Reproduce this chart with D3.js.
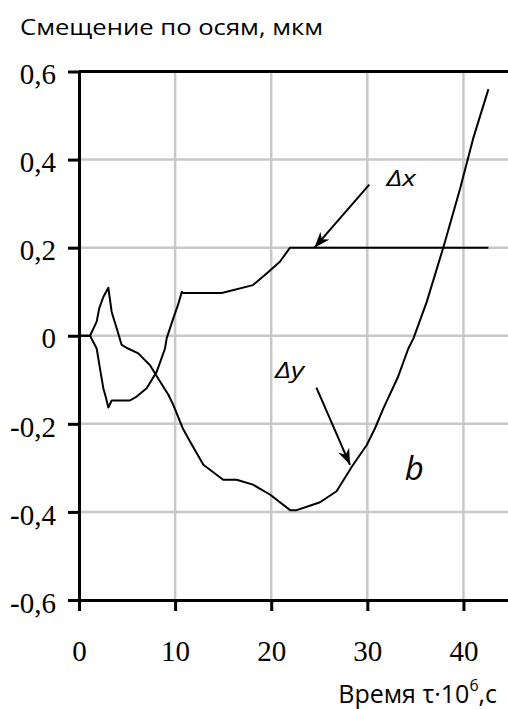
<!DOCTYPE html>
<html>
<head>
<meta charset="utf-8">
<script src="https://cdn.jsdelivr.net/npm/d3@7"></script>
<style>
  body { margin: 0; background: #fff; }
  svg { display: block; }
</style>
</head>
<body>
<svg width="508" height="709"></svg>
<script>
// time, 10^6 s
var xTicks = [0, 10, 20, 30, 40];
var yTicks = [-0.6, -0.4, -0.2, 0, 0.2, 0.4, 0.6];

// Δx curve
var dxT = [0, 1.15, 1.84, 2.18, 2.53, 2.8, 3.05, 3.4, 5.3, 6.0, 7.04, 8.08, 8.95, 9.12, 9.8, 10.3, 10.7, 10.8, 14.85, 18.1, 19.7, 20.9, 21.96, 42.6];
var dxV = [0, 0, -0.029, -0.074, -0.119, -0.14, -0.163, -0.147, -0.147, -0.138, -0.119, -0.082, -0.029, -0.006, 0.039, 0.07, 0.1, 0.097, 0.097, 0.115, 0.145, 0.168, 0.2, 0.2];

// Δy curve
var dyT = [0, 1.15, 1.84, 2.1, 2.53, 3.05, 3.4, 3.92, 4.44, 5.1, 6.17, 7.39, 8.43, 9.3, 9.81, 10.79, 11.55, 12.94, 15.0, 16.4, 18.1, 19.9, 21.96, 22.65, 25.08, 26.8, 28.4, 29.94, 30.8, 31.67, 33.2, 34.27, 34.8, 36.18, 37.9, 39.65, 41.0, 42.6];
var dyV = [0, 0, 0.032, 0.062, 0.088, 0.109, 0.054, 0.017, -0.021, -0.029, -0.04, -0.067, -0.104, -0.134, -0.157, -0.21, -0.24, -0.293, -0.327, -0.327, -0.338, -0.361, -0.396, -0.396, -0.378, -0.353, -0.297, -0.248, -0.21, -0.165, -0.093, -0.029, -0.006, 0.077, 0.2, 0.334, 0.447, 0.56];

// arrows: [fromT, fromV, toT, toV]
var arrows = [[30.2, 0.343, 24.5, 0.2], [24.7, -0.118, 28.2, -0.293]];
var notes = [
  { t: 32.0, v: 0.34, text: "Δx", size: 21, len: 29 },
  { t: 20.4, v: -0.097, text: "Δy", size: 21, len: 29 },
  { t: 33.9, v: -0.327, text: "b", size: 33, len: 0 }
];

var serif = '"Liberation Serif", "DejaVu Serif", serif';
var sans = '"Open Sans", "Noto Sans", sans-serif';

var svg = d3.select("svg");

var x = d3.scaleLinear().domain([0, 45]).range([79, 511.5]);
var y = d3.scaleLinear().domain([-0.6, 0.6]).range([600, 71.5]);

var fmt = function(d) {
  return d === 0 ? "0" : d3.format(".1f")(d).replace("\u2212", "-").replace(".", ",");
};

// grid
svg.append("g").selectAll("line")
    .data(xTicks.filter(function(d) { return d > 0; }))
    .enter().append("line")
    .attr("x1", function(d) { return x(d); }).attr("x2", function(d) { return x(d); })
    .attr("y1", y(0.6)).attr("y2", y(-0.6))
    .attr("stroke", "#c8c8c8").attr("stroke-width", 2.5);

svg.append("g").selectAll("line")
    .data(yTicks.filter(function(d) { return Math.abs(d) < 0.6; }))
    .enter().append("line")
    .attr("x1", x(0)).attr("x2", x(45))
    .attr("y1", function(d) { return y(d); }).attr("y2", function(d) { return y(d); })
    .attr("stroke", "#c8c8c8").attr("stroke-width", 2.5);

// top border
svg.append("line")
    .attr("x1", x(0)).attr("x2", x(45))
    .attr("y1", y(0.6)).attr("y2", y(0.6))
    .attr("stroke", "#000").attr("stroke-width", 3);

// axes
var yAx = svg.append("g")
    .attr("transform", "translate(" + x(0) + ",0)")
    .call(d3.axisLeft(y).tickValues(yTicks).tickSize(11).tickSizeOuter(0).tickPadding(12)
      .tickFormat(fmt));
yAx.selectAll(".tick text").attr("dy", "0.42em");

svg.append("g")
    .attr("transform", "translate(0," + y(-0.6) + ")")
    .call(d3.axisBottom(x).tickValues(xTicks).tickSize(11).tickSizeOuter(0).tickPadding(29)
      .tickFormat(d3.format("d")));

svg.selectAll(".domain, .tick line").attr("stroke", "#000").attr("stroke-width", 3);
svg.selectAll(".tick text")
    .attr("fill", "#000")
    .style("font-family", serif)
    .style("font-size", "29px");

// curves
var line = d3.line()
    .x(function(d) { return x(d[0]); })
    .y(function(d) { return y(d[1]); });

svg.append("path")
    .datum(d3.zip(dxT, dxV))
    .attr("d", line)
    .attr("fill", "none").attr("stroke", "#000").attr("stroke-width", 2)
    .attr("stroke-linejoin", "round");

svg.append("path")
    .datum(d3.zip(dyT, dyV))
    .attr("d", line)
    .attr("fill", "none").attr("stroke", "#000").attr("stroke-width", 2)
    .attr("stroke-linejoin", "round");

// arrows
svg.append("defs").append("marker")
    .attr("id", "head")
    .attr("viewBox", "-16 -7 18 14")
    .attr("refX", 0).attr("refY", 0)
    .attr("markerWidth", 18).attr("markerHeight", 14)
    .attr("markerUnits", "userSpaceOnUse")
    .attr("orient", "auto")
    .append("path")
    .attr("d", "M0,0 L-16,-6 L-11,0 L-16,6 Z")
    .attr("fill", "#000");

svg.append("g").selectAll("line")
    .data(arrows)
    .enter().append("line")
    .attr("x1", function(d) { return x(d[0]); })
    .attr("y1", function(d) { return y(d[1]); })
    .attr("x2", function(d) { return x(d[2]); })
    .attr("y2", function(d) { return y(d[3]); })
    .attr("stroke", "#000").attr("stroke-width", 2)
    .attr("marker-end", "url(#head)");

svg.append("g").selectAll("text")
    .data(notes)
    .enter().append("text")
    .attr("x", function(d) { return x(d.t); })
    .attr("y", function(d) { return y(d.v); })
    .attr("textLength", function(d) { return d.len || null; })
    .attr("lengthAdjust", "spacingAndGlyphs")
    .style("font-family", sans)
    .style("font-size", function(d) { return d.size + "px"; })
    .style("font-style", "italic")
    .text(function(d) { return d.text; });

// titles
svg.append("text")
    .attr("x", 20).attr("y", 35)
    .style("font-family", sans)
    .style("font-size", "22px")
    .attr("textLength", 303).attr("lengthAdjust", "spacingAndGlyphs")
    .text("Смещение по осям, мкм");

var xl = svg.append("text")
    .attr("x", 497).attr("y", 703)
    .attr("text-anchor", "end")
    .style("font-family", sans)
    .style("font-size", "25px");
xl.append("tspan").text("Время τ·10");
xl.append("tspan").style("font-size", "16px").attr("dy", -12).text("6");
xl.append("tspan").attr("dy", 12).text(",с");
</script>
</body>
</html>
